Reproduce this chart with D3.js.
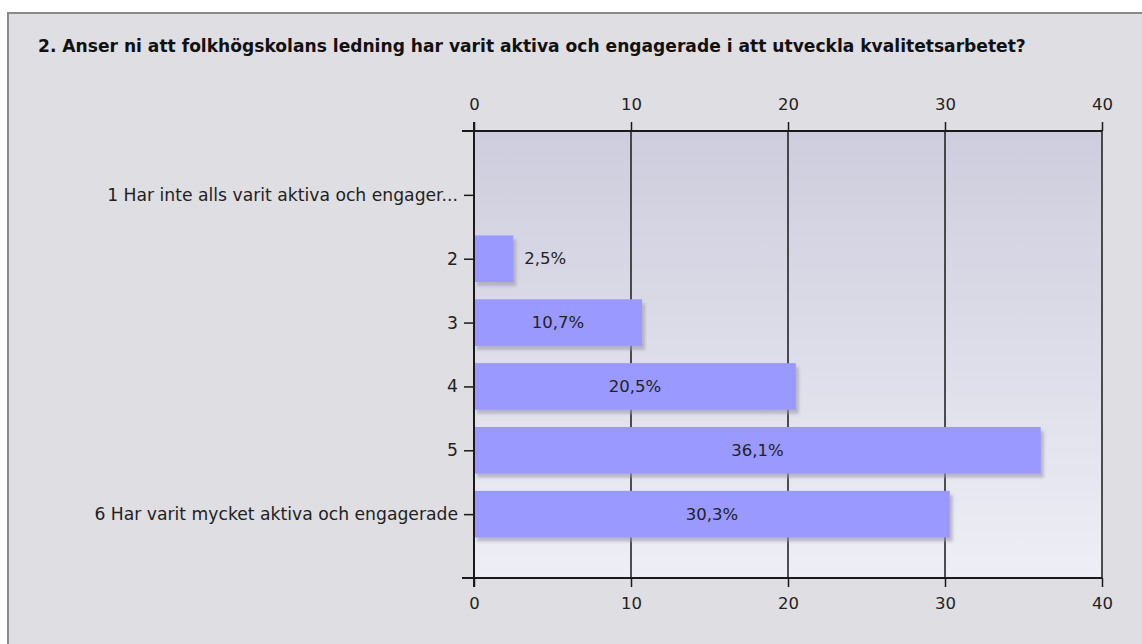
<!DOCTYPE html>
<html>
<head>
<meta charset="utf-8">
<script src="https://cdn.jsdelivr.net/npm/d3@7"></script>
<style>
  body { margin: 0; background: #fff; }
  svg { display: block; font-family: "DejaVu Sans", Verdana, sans-serif; }
</style>
</head>
<body>
<div id="chart"></div>
<script>
const title = "2. Anser ni att folkhögskolans ledning har varit aktiva och engagerade i att utveckla kvalitetsarbetet?";
const categories = [
    "1 Har inte alls varit aktiva och engager...",
    "2",
    "3",
    "4",
    "5",
    "6 Har varit mycket aktiva och engagerade"
];
const values = [0, 2.5, 10.7, 20.5, 36.1, 30.3];
const valueLabels = ["", "2,5%", "10,7%", "20,5%", "36,1%", "30,3%"];
const xTicks = [0, 10, 20, 30, 40];

const width = 1142, height = 644;
const plot = { left: 474, right: 1102, top: 131, bottom: 578 };
const fontSize = 16.5;

const svg = d3.select("#chart").append("svg")
    .attr("width", width)
    .attr("height", height);

let defs = svg.append("defs");
let grad = defs.append("linearGradient")
    .attr("id", "plotbg")
    .attr("x1", 0).attr("y1", 0).attr("x2", 0).attr("y2", 1);
grad.append("stop").attr("offset", "0%").attr("stop-color", "#cdcddd");
grad.append("stop").attr("offset", "100%").attr("stop-color", "#eeeef6");

let shadow = defs.append("filter").attr("id", "shadow")
    .attr("x", "-5%").attr("y", "-20%").attr("width", "115%").attr("height", "150%");
shadow.append("feGaussianBlur").attr("stdDeviation", 1.5);

// outer frame
svg.append("rect")
    .attr("x", 8).attr("y", 13)
    .attr("width", width + 10).attr("height", height + 10)
    .attr("fill", "#dfdee3")
    .attr("stroke", "#8a8a86")
    .attr("stroke-width", 2);

svg.append("text")
    .attr("x", 38).attr("y", 52)
    .attr("font-size", 17.1)
    .attr("font-weight", "bold")
    .attr("fill", "#111")
    .text(title);

let x = d3.scaleLinear()
    .domain([0, 40])
    .range([plot.left, plot.right]);

let y = d3.scalePoint()
    .domain(categories)
    .range([plot.top, plot.bottom])
    .padding(1);

const barH = y.step() * 0.73;

svg.append("rect")
    .attr("x", plot.left).attr("y", plot.top)
    .attr("width", plot.right - plot.left)
    .attr("height", plot.bottom - plot.top)
    .attr("fill", "url(#plotbg)");

// vertical grid lines
svg.append("g")
    .selectAll("line")
    .data(xTicks.slice(1))
    .enter()
    .append("line")
    .attr("x1", d => x(d)).attr("x2", d => x(d))
    .attr("y1", plot.top).attr("y2", plot.bottom)
    .attr("stroke", "#1a1a1a")
    .attr("stroke-width", 1.5);

let data = categories.map((c, i) => ({ cat: c, v: values[i], label: valueLabels[i] }));

// bar shadows
svg.append("g")
    .selectAll("rect")
    .data(data.filter(d => d.v > 0))
    .enter()
    .append("rect")
    .attr("x", d => x(0) + 3)
    .attr("y", d => y(d.cat) - barH / 2 + 4)
    .attr("width", d => x(d.v) - x(0))
    .attr("height", barH)
    .attr("fill", "#9a9aa8")
    .attr("opacity", 0.6)
    .attr("filter", "url(#shadow)");

svg.append("g")
    .selectAll("rect")
    .data(data.filter(d => d.v > 0))
    .enter()
    .append("rect")
    .attr("x", d => x(0))
    .attr("y", d => y(d.cat) - barH / 2)
    .attr("width", d => x(d.v) - x(0))
    .attr("height", barH)
    .attr("fill", "#9999ff");

// value labels: centred in the bar, or just right of it when the bar is short
svg.append("g")
    .selectAll("text")
    .data(data.filter(d => d.label))
    .enter()
    .append("text")
    .attr("x", function(d) {
        let w = x(d.v) - x(0);
        return w < 60 ? x(d.v) + 11 : x(0) + w / 2;
    })
    .attr("y", d => y(d.cat))
    .attr("dy", "0.35em")
    .attr("text-anchor", d => (x(d.v) - x(0)) < 60 ? "start" : "middle")
    .attr("font-size", fontSize)
    .attr("fill", "#222")
    .text(d => d.label);

// top and bottom axes
let axTop = svg.append("g")
    .attr("transform", "translate(0," + plot.top + ")")
    .call(d3.axisTop(x).tickValues(xTicks).tickSize(9).tickPadding(12));
let axBot = svg.append("g")
    .attr("transform", "translate(0," + plot.bottom + ")")
    .call(d3.axisBottom(x).tickValues(xTicks).tickSize(9).tickPadding(10));

let axLeft = svg.append("g")
    .attr("transform", "translate(" + plot.left + ",0)")
    .call(d3.axisLeft(y).tickSize(10).tickPadding(6));

for (let ax of [axTop, axBot, axLeft]) {
    ax.select(".domain").remove();
    ax.selectAll(".tick line").attr("stroke", "#1a1a1a").attr("stroke-width", 1.5);
    ax.selectAll("text")
        .attr("font-family", "DejaVu Sans, Verdana, sans-serif")
        .attr("font-size", fontSize)
        .attr("fill", "#222");
}
axLeft.selectAll("text").attr("font-size", 17.2);

// axis lines, running past the plot corners
svg.append("g")
    .selectAll("line")
    .data([plot.top, plot.bottom])
    .enter()
    .append("line")
    .attr("x1", plot.left - 12).attr("x2", plot.right)
    .attr("y1", d => d).attr("y2", d => d)
    .attr("stroke", "#1a1a1a")
    .attr("stroke-width", 2);

svg.append("line")
    .attr("x1", plot.left).attr("x2", plot.left)
    .attr("y1", plot.top - 9).attr("y2", plot.bottom + 9)
    .attr("stroke", "#1a1a1a")
    .attr("stroke-width", 2);
</script>
</body>
</html>
